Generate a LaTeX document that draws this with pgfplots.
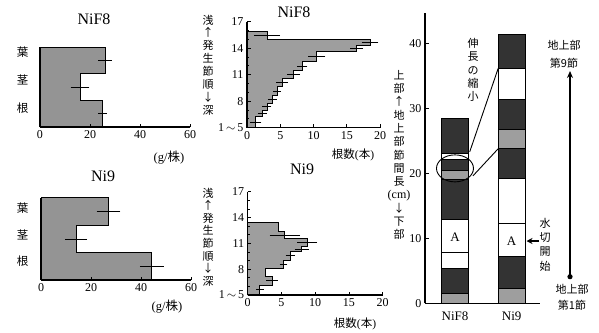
\documentclass[border=0pt]{standalone}
\usepackage{pgfplots}
\pgfplotsset{compat=1.18}
\usetikzlibrary{arrows.meta}
\usepackage{fontspec}
\setmainfont{Liberation Serif}
\newfontfamily\jp{Noto Sans CJK JP}
\pgfplotsset{
  base/.style={scale only axis, axis on top, anchor=south west,
    axis x line*=bottom, axis y line*=left,
    axis line style={line width=1.1pt},
    tick style={line width=0.8pt, black},
    tick label style={font=\fontsize{12}{13}\selectfont},
    /pgf/number format/assume math mode=true, tick align=inside,
    major tick length=3.5pt, minor tick length=2.2pt, clip=false},
  ebar/.style={draw=none, mark=none, forget plot,
    error bars/.cd, x dir=both, x explicit,
    error bar style={draw=black, line width=0.7pt},
    error mark options={draw=black, line width=0.7pt, mark size=1.8pt}},
}
\begin{document}
\begin{tikzpicture}
\useasboundingbox (0pt,0pt) rectangle (599pt,-332pt);

% ---------- Panel 1: NiF8 dry weight ----------
\begin{axis}[base, at={(40pt,-127pt)}, width=150pt, height=80pt,
  xmin=0, xmax=60, ymin=0, ymax=3, xtick={0,20,40,60},
  ytick={0.70,1.76,2.82}, yticklabels={根,茎,葉}, ytick style={draw=none},
  yticklabel style={font=\jp\fontsize{11.5}{12}\selectfont, xshift=-8pt}]
\addplot[fill=black!42, draw=black, line width=0.9pt] coordinates {
 (0,0) (25,0) (25,1) (16,1) (16,2) (26,2) (26,3) (0,3)};
\addplot[ebar] coordinates {(26,2.5) +- (2,0) (16,1.5) +- (3,0) (25,0.5) +- (1,0)};
\end{axis}

% ---------- Panel 2: Ni9 dry weight ----------
\begin{axis}[base, at={(41pt,-280pt)}, width=150pt, height=82.3pt,
  xmin=0, xmax=60, ymin=0, ymax=3, xtick={0,20,40,60},
  ytick={0.67,1.64,2.61}, yticklabels={根,茎,葉}, ytick style={draw=none},
  yticklabel style={font=\jp\fontsize{11.5}{12}\selectfont, xshift=-9pt}]
\addplot[fill=black!42, draw=black, line width=0.9pt] coordinates {
 (0,0) (44.3,0) (44.3,1) (14,1) (14,2) (27,2) (27,3) (0,3)};
\addplot[ebar] coordinates {(27,2.5) +- (4,0) (14,1.5) +- (3.7,0) (44.3,0.5) +- (4,0)};
\end{axis}

% ---------- Panel 3: NiF8 roots per node ----------
\begin{axis}[base, at={(247pt,-127.7pt)}, width=133pt, height=106pt,
  xmin=0, xmax=20, ymin=5, ymax=17, xtick={0,5,10,15,20},
  ytick={5,8,11,14,17}, yticklabels={1\,$\sim$\,5,8,11,14,17},
  minor ytick={6,7,9,10,12,13,15,16}]
\addplot[fill=black!38, draw=black, line width=0.8pt] coordinates {
 (0,5) (1.3,5) (1.3,6.25) (2.3,6.25) (2.3,7.0) (3.0,7.0) (3.0,7.76) (3.8,7.76)
 (3.8,8.70) (4.5,8.70) (4.5,9.64) (5.3,9.64) (5.3,10.59) (7.0,10.59) (7.0,11.53)
 (8.3,11.53) (8.3,12.47) (10.5,12.47) (10.5,13.61) (16.5,13.61) (16.5,14.37)
 (18.5,14.37) (18.5,15.01) (3.0,15.01) (3.0,15.87) (0,15.87)};
\addplot[ebar] coordinates {
 (3.0,15.44) +- (1.7,0) (18.5,14.69) +- (1.0,0) (16.5,13.99) +- (0.7,0)
 (10.5,13.04) +- (1.0,0) (8.3,12.0) +- (0.5,0) (7.0,11.06) +- (0.7,0)
 (5.3,10.12) +- (0.6,0) (4.5,9.17) +- (0.3,0) (3.8,8.23) +- (0.4,0)
 (3.0,7.38) +- (0.4,0) (2.3,6.63) +- (0.4,0) (1.3,5.6) +- (0.6,0)};
\end{axis}

% ---------- Panel 4: Ni9 roots per node ----------
\begin{axis}[base, at={(247.7pt,-295pt)}, width=135pt, height=103.3pt,
  xmin=0, xmax=20, ymin=5, ymax=17, xtick={0,5,10,15,20},
  ytick={5,8,11,14,17}, yticklabels={1\,$\sim$\,5,8,11,14,17},
  minor ytick={6,7,9,10,12,13,15,16}]
\addplot[fill=black!38, draw=black, line width=0.8pt] coordinates {
 (0,5) (1.8,5) (1.8,6.16) (3.6,6.16) (3.6,7.13) (2.6,7.13) (2.6,8.10) (5.3,8.10)
 (5.3,9.07) (6.3,9.07) (6.3,10.03) (8.0,10.03) (8.0,10.62) (8.8,10.62) (8.8,11.59)
 (5.5,11.59) (5.5,12.36) (4.5,12.36) (4.5,13.41) (0,13.41)};
\addplot[ebar] coordinates {
 (5.5,11.97) +- (2.0,0) (8.8,11.1) +- (1.2,0) (8.0,10.33) +- (0.8,0)
 (6.3,9.55) +- (0.4,0) (5.3,8.6) +- (0.3,0) (3.6,6.65) +- (0.6,0) (1.8,5.6) +- (0.3,0)};
\end{axis}

% ---------- Panel 5: internode lengths ----------
\begin{axis}[base, at={(425pt,-303.3pt)}, width=115pt, height=290pt,
  xmin=0.471, xmax=2.5, ymin=0, ymax=44.6,
  xtick={1,2}, xticklabels={NiF8,Ni9}, xtick style={draw=none},
  xticklabel style={font=\fontsize{13}{14}\selectfont, yshift=-5pt},
  ytick={0,10,20,30,40},
  every axis plot/.append style={ybar, bar width=0.471, bar shift=0pt, draw=black, line width=0.7pt}]
% NiF8 (painted from top layer down)
\addplot[fill=black!80] coordinates {(1,28.5)};
\addplot[fill=white] coordinates {(1,23.1)};
\addplot[fill=black!80] coordinates {(1,22.1)};
\addplot[fill=black!38] coordinates {(1,20.5)};
\addplot[fill=black!80] coordinates {(1,19.0)};
\addplot[fill=white] coordinates {(1,12.9)};
\addplot[fill=white] coordinates {(1,7.8)};
\addplot[fill=black!80] coordinates {(1,5.4)};
\addplot[fill=black!38] coordinates {(1,1.5)};
% Ni9
\addplot[fill=black!80] coordinates {(2,41.3)};
\addplot[fill=white] coordinates {(2,36.2)};
\addplot[fill=black!80] coordinates {(2,31.3)};
\addplot[fill=black!38] coordinates {(2,26.7)};
\addplot[fill=black!80] coordinates {(2,23.8)};
\addplot[fill=white] coordinates {(2,19.2)};
\addplot[fill=white] coordinates {(2,12.3)};
\addplot[fill=black!80] coordinates {(2,7.2)};
\addplot[fill=black!38] coordinates {(2,2.3)};
\draw[line width=0.9pt] (axis cs:1,20.75) ellipse [x radius=18.5pt, y radius=13.5pt];
\draw[line width=0.9pt] (axis cs:1.26,23.3) -- (axis cs:1.765,36.2);
\draw[line width=0.9pt] (axis cs:1.317,19.6) -- (axis cs:1.765,23.8);
\node[font=\fontsize{13}{14}\selectfont] at (axis cs:1,10.2) {A};
\node[font=\fontsize{13}{14}\selectfont] at (axis cs:2,9.6) {A};
\end{axis}

% ---------- titles and labels ----------
\node[font=\fontsize{16}{18}\selectfont] at (94pt,-19pt) {NiF8};
\node[font=\fontsize{16}{18}\selectfont] at (103pt,-176pt) {Ni9};
\node[font=\fontsize{16}{18}\selectfont] at (294pt,-12.5pt) {NiF8};
\node[font=\fontsize{16}{18}\selectfont] at (302pt,-169pt) {Ni9};
\node[font=\fontsize{12.5}{14}\selectfont] at (169pt,-158pt) {(g/{\jp 株})};
\node[font=\fontsize{12.5}{14}\selectfont] at (167pt,-307pt) {(g/{\jp 株})};
\node[font=\jp\fontsize{11.5}{13}\selectfont] at (353pt,-155pt) {根数{\rmfamily(}本{\rmfamily)}};
\node[font=\jp\fontsize{11.5}{13}\selectfont] at (355pt,-324pt) {根数{\rmfamily(}本{\rmfamily)}};
\node[font=\jp\fontsize{11}{12.9}\selectfont, align=center, inner sep=0pt] at (208pt,-65pt)
 {浅\\↑\\発\\生\\節\\順\\↓\\深};
\node[font=\jp\fontsize{11}{12.6}\selectfont, align=center, inner sep=0pt] at (208pt,-237pt)
 {浅\\↑\\発\\生\\節\\順\\↓\\深};
\node[font=\jp\fontsize{11}{13.3}\selectfont, align=center, inner sep=0pt] at (399pt,-155pt)
 {上\\部\\↑\\地\\上\\部\\節\\間\\長\\{\rmfamily\fontsize{12}{13.3}\selectfont(cm)}\\↓\\下\\部};
\node[font=\jp\fontsize{11}{13.3}\selectfont, align=center, inner sep=0pt] at (473pt,-70pt)
 {伸\\長\\の\\縮\\小};
\node[font=\jp\fontsize{11}{14.3}\selectfont, align=center, inner sep=0pt] at (545pt,-244.5pt)
 {水\\切\\開\\始};
\node[font=\jp\fontsize{11}{12}\selectfont] at (564pt,-45pt) {地上部};
\node[font=\jp\fontsize{11}{12}\selectfont] at (564pt,-63pt) {第9節};
\node[font=\jp\fontsize{11}{12}\selectfont] at (572pt,-289pt) {地上部};
\node[font=\jp\fontsize{11}{12}\selectfont] at (572pt,-305pt) {第1節};
\draw[line width=1.2pt, -{Stealth[length=7pt,width=6pt]}] (570pt,-276.7pt) -- (570pt,-71pt);
\fill (570pt,-276.7pt) circle (2.6pt);
\draw[line width=1.2pt, -{Stealth[length=6pt,width=6pt]}] (539pt,-241pt) -- (526.5pt,-241pt);
\end{tikzpicture}
\end{document}
